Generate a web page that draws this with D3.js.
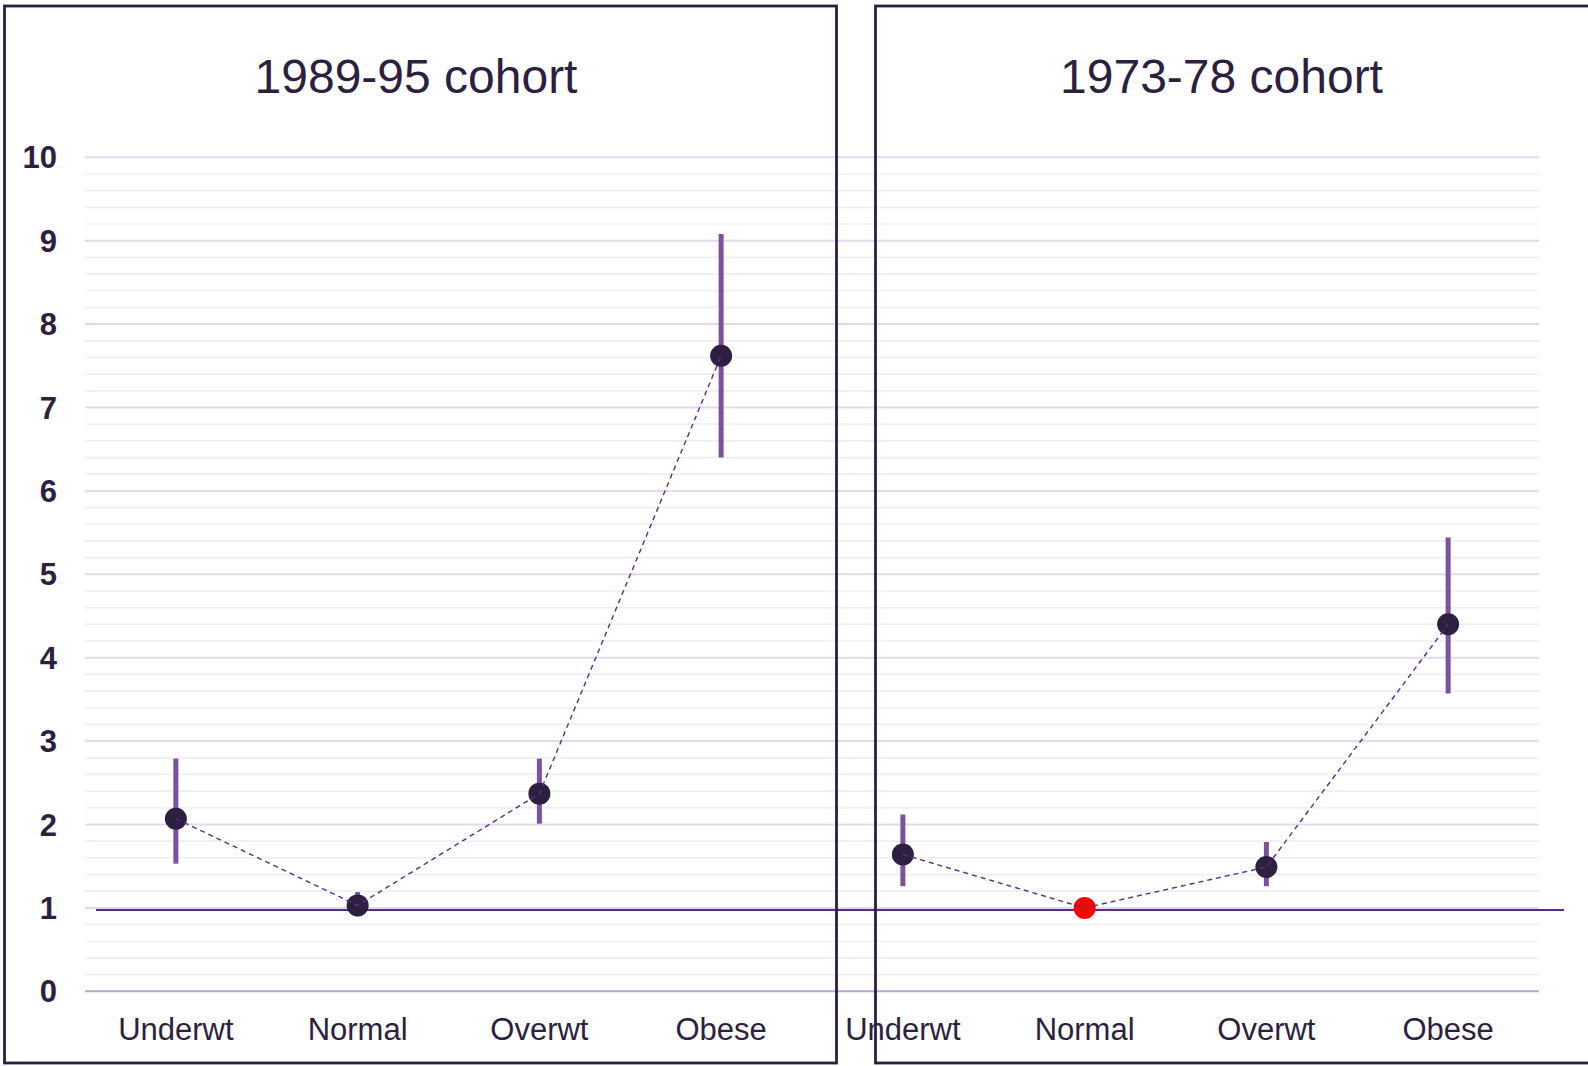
<!DOCTYPE html>
<html>
<head>
<meta charset="utf-8">
<script src="https://cdn.jsdelivr.net/npm/d3@7"></script>
<style>
  html, body { margin: 0; padding: 0; background: #fff; }
  svg { display: block; font-family: "Liberation Sans", Arial, sans-serif; }
</style>
</head>
<body>
<svg id="chart" width="1588" height="1066"></svg>
<script>
  // categories and cohorts
  const categories = ["Underwt", "Normal", "Overwt", "Obese"];
  const cohorts = ["1989-95 cohort", "1973-78 cohort"];

  // estimates with lower / upper limits, one array per cohort
  const est1989 = [2.07, 1.03, 2.37, 7.62];
  const lo1989 = [1.53, 0.90, 2.01, 6.40];
  const hi1989 = [2.79, 1.19, 2.79, 9.08];

  const est1973 = [1.64, 1.00, 1.49, 4.40];
  const lo1973 = [1.26, null, 1.26, 3.57];
  const hi1973 = [2.12, null, 1.79, 5.44];

  // reference category (drawn red) per cohort, -1 = none
  const refIndex = [-1, 1];

  const yTicks = [0, 1, 2, 3, 4, 5, 6, 7, 8, 9, 10];
  const refLine = 0.975;

  const dark = "#2d1f3f";
  const barCol = "#7b52a0";
  const lineCol = "#5b2c86";

  // build rows for the 8 positions along one x axis
  const series = [
    { est: est1989, lo: lo1989, hi: hi1989 },
    { est: est1973, lo: lo1973, hi: hi1973 }
  ];
  const rows = [];
  series.forEach((s, c) => {
    categories.forEach((cat, i) => {
      rows.push({
        key: c + "-" + cat, cat: cat, cohort: c,
        est: s.est[i], lo: s.lo[i], hi: s.hi[i],
        ref: refIndex[c] === i
      });
    });
  });

  const svg = d3.select("#chart");

  const x = d3.scaleBand()
    .domain(rows.map(d => d.key))
    .range([85, 1539]);

  const y = d3.scaleLinear()
    .domain([0, 10])
    .range([991.3, 157.3]);

  const cx = d => x(d.key) + x.bandwidth() / 2;

  // minor gridlines every 0.2
  const minor = d3.range(0, 50).map(i => i / 5).filter(v => Math.abs(v - Math.round(v)) > 1e-6);
  svg.append("g").selectAll("line").data(minor).enter().append("line")
    .attr("x1", 85).attr("x2", 1539)
    .attr("y1", d => y(d)).attr("y2", d => y(d))
    .attr("stroke", "#f0eef4")
    .attr("stroke-width", 1.7);

  // major gridlines
  svg.append("g").selectAll("line").data(yTicks).enter().append("line")
    .attr("x1", 85).attr("x2", 1539)
    .attr("y1", d => y(d)).attr("y2", d => y(d))
    .attr("stroke", d => d === 0 ? "#b9a6d1" : "#e3d9ec")
    .attr("stroke-width", 2);

  // y tick labels
  svg.append("g").selectAll("text").data(yTicks).enter().append("text")
    .attr("x", 57)
    .attr("y", d => y(d))
    .attr("dy", "0.36em")
    .attr("text-anchor", "end")
    .attr("font-size", 31)
    .attr("font-weight", "bold")
    .attr("fill", dark)
    .text(d => d);

  // x labels
  svg.append("g").selectAll("text").data(rows).enter().append("text")
    .attr("x", cx)
    .attr("y", 1040)
    .attr("text-anchor", "middle")
    .attr("font-size", 31)
    .attr("fill", dark)
    .text(d => d.cat);

  // reference line
  svg.append("line")
    .attr("x1", 96).attr("x2", 1564)
    .attr("y1", y(refLine)).attr("y2", y(refLine))
    .attr("stroke", lineCol)
    .attr("stroke-width", 2);

  // error bars
  svg.append("g").selectAll("line").data(rows.filter(d => d.lo != null)).enter().append("line")
    .attr("x1", cx).attr("x2", cx)
    .attr("y1", d => y(d.lo)).attr("y2", d => y(d.hi))
    .attr("stroke", barCol)
    .attr("stroke-width", 5);

  // points
  svg.append("g").selectAll("circle").data(rows).enter().append("circle")
    .attr("cx", cx)
    .attr("cy", d => y(d.est))
    .attr("r", 11)
    .attr("fill", d => d.ref ? "#ff0000" : dark);

  // dashed connecting lines, one per cohort
  const line = d3.line().x(cx).y(d => y(d.est));
  cohorts.forEach((name, c) => {
    svg.append("path")
      .datum(rows.filter(d => d.cohort === c))
      .attr("d", line)
      .attr("fill", "none")
      .attr("stroke", lineCol)
      .attr("stroke-width", 1.4)
      .attr("stroke-dasharray", "5,4");
  });

  // panel titles
  const titleX = [416, 1221.5];
  svg.append("g").selectAll("text").data(cohorts).enter().append("text")
    .attr("x", (d, i) => titleX[i])
    .attr("y", 93)
    .attr("text-anchor", "middle")
    .attr("font-size", 48)
    .attr("fill", dark)
    .text(d => d);

  // panel frames
  const frames = [[4.5, 836.5], [875.5, 1600]];
  svg.append("g").selectAll("rect").data(frames).enter().append("rect")
    .attr("x", d => d[0])
    .attr("y", 6)
    .attr("width", d => d[1] - d[0])
    .attr("height", 1057)
    .attr("fill", "none")
    .attr("stroke", dark)
    .attr("stroke-width", 2.8);
</script>
</body>
</html>
